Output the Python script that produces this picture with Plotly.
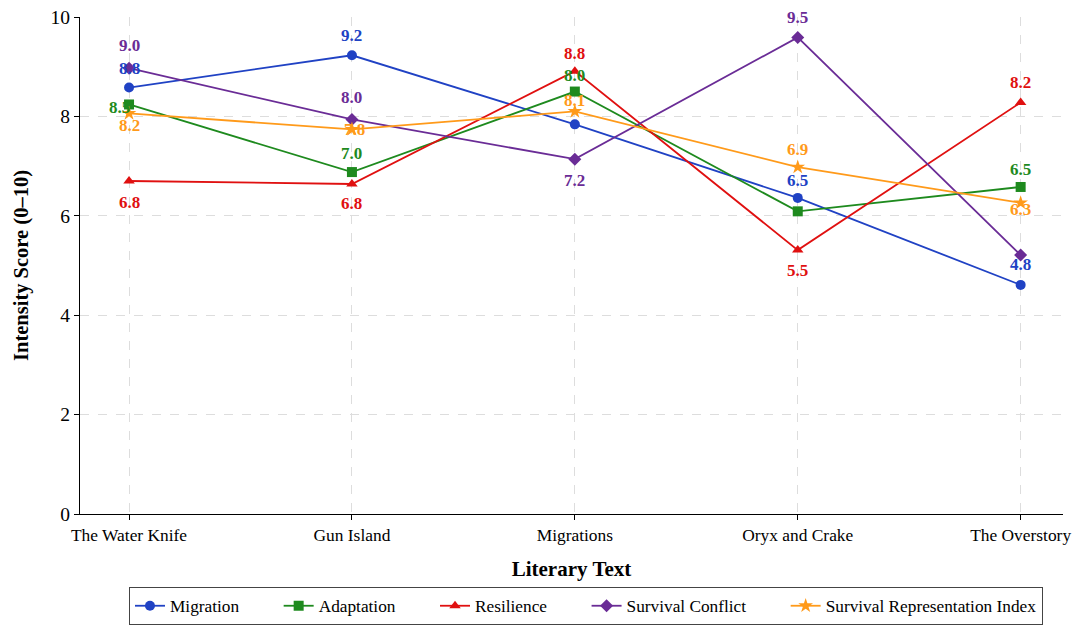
import plotly.graph_objects as go

texts = ["The Water Knife", "Gun Island", "Migrations", "Oryx and Crake", "The Overstory"]

migration = [8.58, 9.23, 7.84, 6.36, 4.61]
adaptation = [8.24, 6.88, 8.50, 6.09, 6.58]
resilience = [6.70, 6.64, 8.91, 5.31, 8.28]
survival_conflict = [8.97, 7.94, 7.14, 9.59, 5.21]
sri = [8.06, 7.74, 8.10, 6.98, 6.26]

migration_lbl = ["8.8", "9.2", "", "6.5", "4.8"]
adaptation_lbl = ["8.5", "7.0", "8.0", "", "6.5"]
resilience_lbl = ["6.8", "6.8", "8.8", "5.5", "8.2"]
conflict_lbl = ["9.0", "8.0", "7.2", "9.5", ""]
sri_lbl = ["8.2", "7.8", "8.1", "6.9", "6.3"]

yticks = [0, 2, 4, 6, 8, 10]

NB = "\u00a0" * 8
series = [
    ("Migration", migration, migration_lbl, "#2042c4", "circle"),
    ("Adaptation", adaptation, adaptation_lbl, "#1e8a1e", "square"),
    ("Resilience", resilience, resilience_lbl, "#e01010", "triangle-up"),
    ("Survival Conflict", survival_conflict, conflict_lbl, "#6a2c96", "diamond"),
    ("Survival Representation Index", sri, sri_lbl, "#ff9a1a", "star"),
]

# label offsets in pixels (xshift, yshift) per series per point
offsets = [
    [(0, 19), (0, 20), (0, 20), (0, 17), (0, 20)],
    [(-10, -3), (0, 19), (0, 16), (0, 18), (0, 17)],
    [(0, -21), (0, -20), (0, 18), (0, -20), (0, 20)],
    [(0, 23), (0, 22), (0, -21), (0, 20), (0, 20)],
    [(0, -12), (3, 0), (0, 11), (0, 18), (0, -7)],
]

fig = go.Figure()
for i, ((name, vals, lbls, color, sym), offs) in enumerate(zip(series, offsets)):
    fig.add_trace(go.Scatter(
        x=texts, y=vals, mode="lines+markers",
        name=name + (NB if i < len(series) - 1 else ""),
        line=dict(color=color, width=1.8),
        marker=dict(symbol=sym, size=10 if sym != "star" else 11, color=color),
    ))
    for xv, yv, lb, (dx, dy) in zip(texts, vals, lbls, offs):
        if lb:
            fig.add_annotation(
                x=xv, y=yv, text="<b>%s</b>" % lb, showarrow=False,
                xshift=dx, yshift=dy,
                font=dict(family="Liberation Serif", size=17, color=color),
            )

fig.update_layout(
    width=1074, height=625,
    margin=dict(l=80, r=11, t=17, b=111),
    plot_bgcolor="white", paper_bgcolor="white",
    font=dict(family="Liberation Serif", size=17, color="black"),
    showlegend=True,
    legend=dict(
        orientation="h", xref="container", yref="container",
        x=0.5456, xanchor="center", y=0.0608, yanchor="top",
        bordercolor="#444444", borderwidth=1, font=dict(size=17.3),
        tracegroupgap=0,
    ),
)
fig.update_xaxes(
    range=[-0.22, 4.19], showline=True, linecolor="black", linewidth=1,
    showgrid=True, gridcolor="#dddddd", griddash="dash", gridwidth=1,
    ticks="outside", ticklen=5, tickcolor="black", automargin=False,
    ticklabeloverflow="allow",
    tickfont=dict(size=17.4),
    title=dict(text="<b>Literary Text</b>", font=dict(size=21), standoff=17),
)
fig.update_yaxes(
    range=[0, 10], tickvals=yticks, showline=True, linecolor="black", linewidth=1,
    showgrid=True, gridcolor="#dddddd", griddash="dash", gridwidth=1,
    ticks="outside", ticklen=5, tickcolor="black", zeroline=False, automargin=False,
    ticklabeloverflow="allow",
    tickfont=dict(size=19.5),
    title=dict(text="<b>Intensity Score (0–10)</b>", font=dict(size=20.5), standoff=16),
)

fig.write_html(
    "out.html",
    config={"displayModeBar": False},
    post_script="document.body.style.margin='0';document.body.style.overflow='hidden';",
)
